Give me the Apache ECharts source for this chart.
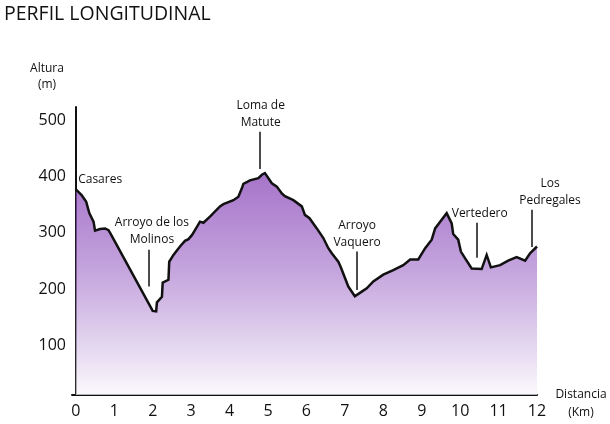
<!DOCTYPE html>
<html><head><meta charset="utf-8">
<script src="https://cdn.jsdelivr.net/npm/echarts@6/dist/echarts.min.js"></script>
<style>html,body{margin:0;padding:0;background:#fff}#c{width:610px;height:424px}</style>
</head><body><div id="c"></div>
<script>
// Profile: distance (km) and elevation (m)
var distKm = [0,0.15,0.27,0.35,0.46,0.50,0.63,0.76,0.85,0.91,2.00,2.09,2.11,2.24,2.26,2.41,2.43,2.54,2.71,2.84,2.93,3.02,3.10,3.23,3.32,3.49,3.75,3.84,4.10,4.23,4.32,4.36,4.53,4.75,4.84,4.92,5.10,5.23,5.36,5.44,5.66,5.88,5.96,6.08,6.27,6.44,6.57,6.66,6.83,6.89,7.09,7.26,7.44,7.57,7.74,8.00,8.26,8.52,8.70,8.91,9.09,9.26,9.35,9.48,9.65,9.78,9.82,9.95,10.02,10.13,10.30,10.56,10.69,10.80,11.04,11.25,11.47,11.69,11.82,12.0];
var altura = [377,367,355,335,320,304,307,308,305,298,162,161,177,187,212,217,249,261,276,286,289,296,305,320,318,329,347,351,358,364,379,387,393,397,403,406,388,382,370,365,358,347,332,326,308,291,273,264,249,240,205,188,196,202,214,226,234,243,253,253,273,288,308,320,335,317,298,288,267,255,237,236,261,239,243,251,257,251,264,276];
var yTicks = [100,200,300,400,500];
var xTicks = [0,1,2,3,4,5,6,7,8,9,10,11,12];
// Place names: [km, altitude of label centre, text, align, pixel shift x]
var lugares = [
  [0.06, 394, 'Casares', 'left', 0],
  [1.98, 304, 'Arroyo de los\nMolinos', 'center', 0],
  [4.81, 511, 'Loma de\nMatute', 'center', 0],
  [7.32, 298, 'Arroyo\nVaquero', 'center', 0],
  [10.51, 335, 'Vertedero', 'center', 0],
  [12.0, 372, 'Los\nPedregales', 'center', 13]
];
// Leader lines: [km, top altitude, bottom altitude]
var guias = [
  [1.91, 270, 205],
  [4.79, 479, 413],
  [7.31, 267, 199],
  [10.43, 318, 256],
  [11.87, 341, 275]
];

var FONT = '"Open Sans", "Noto Sans", sans-serif';
var chart = echarts.init(document.getElementById('c'), null, {renderer:'canvas'});
var pts = distKm.map(function(d,i){return [d, altura[i]];});
chart.setOption({
  animation:false,
  backgroundColor:'#fff',
  title:{text:'PERFIL LONGITUDINAL', left:-1, top:-1,
    textStyle:{fontFamily:FONT, fontSize:19.5, fontWeight:'normal', color:'#111'}},
  graphic:[
    {type:'text', style:{text:'Altura\n(m)', x:47, y:77, align:'center', verticalAlign:'middle', font:'12px '+FONT, lineHeight:16, fill:'#111'}},
    {type:'text', style:{text:'Distancia\n(Km)', x:581, y:404, align:'center', verticalAlign:'middle', font:'12px '+FONT, lineHeight:18, fill:'#111'}}
  ],
  grid:{left:72, right:73, top:107, bottom:29, containLabel:false},
  xAxis:{type:'value', min:-0.1, max:12,
    axisLine:{show:true, onZero:false, lineStyle:{color:'#111', width:2}},
    axisTick:{show:false}, splitLine:{show:false},
    axisLabel:{customValues:xTicks, margin:8, fontFamily:FONT, fontSize:16, color:'#111', showMinLabel:true, showMaxLabel:true}},
  yAxis:{type:'value', min:13, max:523,
    axisLine:{show:true, lineStyle:{color:'#111', width:2}},
    axisTick:{show:false}, splitLine:{show:false},
    axisLabel:{customValues:yTicks, margin:6, fontFamily:FONT, fontSize:16, color:'#111'}},
  series:[{
    type:'line', data:pts, symbol:'none', clip:false, z:3,
    lineStyle:{color:'#111', width:2.5, join:'miter'},
    areaStyle:{origin:'start', color:new echarts.graphic.LinearGradient(0,0,0,1,[
      {offset:0, color:'#8038b2'},{offset:0.45, color:'#ad80d0'},{offset:0.8, color:'#dbc9ea'},{offset:1, color:'#faf7fc'}])},
    markLine:{silent:true, symbol:['none','none'], animation:false,
      lineStyle:{color:'#111', width:1.5, type:'solid'}, label:{show:false},
      data:guias.map(function(g){return [{coord:[g[0],g[1]]},{coord:[g[0],g[2]]}];})},
    markPoint:{silent:true, animation:false,
      data:lugares.map(function(p){return {coord:[p[0],p[1]], symbol:'circle', symbolSize:0,
        label:{show:true, position:'inside', offset:[p[4],0], formatter:p[2], align:p[3], verticalAlign:'middle',
          fontFamily:FONT, fontSize:12, lineHeight:17, color:'#111'}};})}
  }]
});
</script></body></html>
